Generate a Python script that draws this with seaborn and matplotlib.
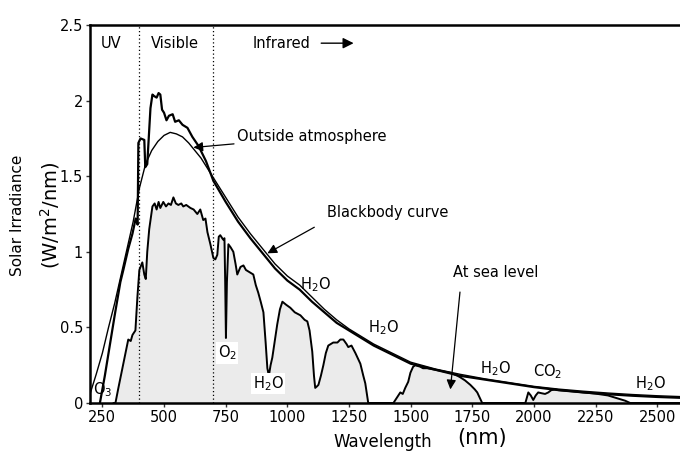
import seaborn as sns
import pandas as pd
from matplotlib import pyplot as plt

"""
data read off the reference picture
"""

# blackbody curve (thin line)
bb_nm = [200, 225, 250, 275, 300, 325, 350, 375, 400, 425, 450, 475, 500, 525, 550, 575,
         600, 650, 700, 750, 800, 850, 900, 950, 1000, 1050, 1100, 1150, 1200, 1250, 1300,
         1350, 1400, 1500, 1600, 1700, 1800, 1900, 2000, 2100, 2200, 2300, 2400, 2500, 2600]
bb_val = [0.06, 0.19, 0.33, 0.50, 0.66, 0.84, 1.02, 1.20, 1.42, 1.58, 1.67, 1.73, 1.77, 1.79, 1.78, 1.76,
          1.72, 1.62, 1.49, 1.36, 1.23, 1.12, 1.02, 0.92, 0.84, 0.78, 0.70, 0.62, 0.55, 0.49, 0.44,
          0.39, 0.35, 0.27, 0.225, 0.19, 0.16, 0.135, 0.11, 0.092, 0.078, 0.066, 0.056, 0.048, 0.042]

# spectrum outside atmosphere
oa_nm = [240, 260, 282, 300, 323, 335, 355, 372, 385, 393, 396, 405, 420, 424, 432, 445, 453,
         460, 470, 478, 485, 492, 500, 510, 520, 535, 545, 560, 575, 595, 615, 640, 670, 700,
         750, 800, 850, 900, 950, 1000, 1050, 1100, 1150, 1200, 1250, 1300, 1350, 1400, 1500,
         1600, 1700, 1800, 1900, 2000, 2100, 2200, 2300, 2400, 2500, 2600]
oa_val = [0.0, 0.18, 0.40, 0.58, 0.80, 0.88, 1.02, 1.12, 1.22, 1.18, 1.72, 1.75, 1.74, 1.56, 1.58, 1.95, 2.04,
          2.03, 2.02, 2.05, 2.04, 1.94, 1.92, 1.87, 1.90, 1.91, 1.86, 1.87, 1.84, 1.82, 1.76, 1.70, 1.60, 1.47,
          1.33, 1.20, 1.09, 0.99, 0.89, 0.81, 0.75, 0.67, 0.60, 0.53, 0.48, 0.43, 0.38, 0.34, 0.26,
          0.22, 0.18, 0.155, 0.13, 0.105, 0.085, 0.07, 0.058, 0.048, 0.04, 0.034]

# spectrum at sea level (shaded)
sl_nm = [295, 303, 315, 335, 355, 365, 372, 384, 392, 400, 412, 420, 426, 432, 440, 453, 462, 470,
         478, 485, 497, 508, 518, 528, 538, 548, 558, 570, 578, 590, 607, 620, 635, 647, 659, 668,
         676, 688, 700, 708, 716, 722, 728, 740, 745, 748, 751, 755, 761, 770, 781, 790, 797, 810,
         822, 832, 842, 852, 862, 872, 882, 892, 903, 912, 919, 925, 932, 939, 950, 959, 970, 980,
         995, 1012, 1030, 1053, 1070, 1081, 1090, 1101, 1108, 1113, 1120, 1126, 1136, 1146, 1156,
         1166, 1176, 1186, 1203, 1215, 1227, 1240, 1247, 1260, 1276, 1296, 1308, 1316, 1328, 1430,
         1446, 1458, 1468, 1478, 1490, 1499, 1510, 1519, 1539, 1550, 1567, 1600, 1630, 1661, 1690,
         1701, 1720, 1742, 1760, 1770, 1790, 1965, 1977, 1987, 1997, 2007, 2017, 2030, 2045, 2058,
         2070, 2085, 2100, 2150, 2200, 2250, 2300, 2340, 2370, 2390, 2600]
sl_val = [0.0, 0.0, 0.10, 0.26, 0.42, 0.41, 0.45, 0.48, 0.70, 0.88, 0.93, 0.85, 0.82, 1.00, 1.15, 1.30, 1.32, 1.28,
          1.33, 1.29, 1.33, 1.30, 1.32, 1.31, 1.36, 1.32, 1.31, 1.32, 1.30, 1.31, 1.29, 1.28, 1.25, 1.28, 1.21, 1.22,
          1.13, 1.05, 0.96, 0.95, 0.98, 1.10, 1.11, 1.08, 1.09, 0.80, 0.43, 0.80, 1.05, 1.03, 1.00, 0.92, 0.85, 0.90,
          0.91, 0.88, 0.87, 0.86, 0.85, 0.78, 0.73, 0.67, 0.60, 0.40, 0.23, 0.18, 0.25, 0.30, 0.42, 0.52, 0.62, 0.67,
          0.65, 0.63, 0.60, 0.58, 0.55, 0.54, 0.48, 0.34, 0.18, 0.10, 0.11, 0.12, 0.18, 0.25, 0.33,
          0.38, 0.39, 0.40, 0.40, 0.42, 0.42, 0.39, 0.37, 0.38, 0.33, 0.26, 0.18, 0.13, 0.0, 0.0,
          0.04, 0.07, 0.06, 0.10, 0.14, 0.20, 0.24, 0.25, 0.24, 0.23, 0.23, 0.22, 0.21, 0.20, 0.18,
          0.17, 0.15, 0.12, 0.09, 0.07, 0.0, 0.0, 0.07, 0.05, 0.02, 0.05, 0.07, 0.065, 0.06, 0.07,
          0.085, 0.09, 0.085, 0.078, 0.07, 0.062, 0.05, 0.03, 0.015, 0.0, 0.0]

x_ticks = [250, 500, 750, 1000, 1250, 1500, 1750, 2000, 2250, 2500]
y_ticks = [0, 0.5, 1, 1.5, 2, 2.5]
y_ticklabels = ["0", "0.5", "1", "1.5", "2", "2.5"]
band_edges = [400, 700]

bb = pd.DataFrame({"nm": bb_nm, "val": bb_val})
oa = pd.DataFrame({"nm": oa_nm, "val": oa_val})
sl = pd.DataFrame({"nm": sl_nm, "val": sl_val})

"""         plot          """

sns.set_style("ticks", {"axes.edgecolor": "black", "text.color": "black",
                        "xtick.color": "black", "ytick.color": "black"})
plt.rcParams['font.family'] = ['DejaVu Sans']

fig = plt.figure(figsize=(6.8, 4.51), dpi=100)
ax = fig.add_axes([0.1324, 0.1064, 0.8676, 0.8381])

ax.fill_between(sl["nm"], 0, sl["val"], color="#ebebeb", lw=0, zorder=1)
sns.lineplot(data=sl, x="nm", y="val", ax=ax, color="black", lw=1.4, sort=False, estimator=None, zorder=3)
sns.lineplot(data=bb, x="nm", y="val", ax=ax, color="black", lw=1.0, sort=False, estimator=None, zorder=3)
sns.lineplot(data=oa, x="nm", y="val", ax=ax, color="black", lw=1.6, sort=False, estimator=None, zorder=4)

for edge in band_edges:
    ax.axvline(edge, color="black", ls=(0, (1, 2)), lw=0.9, zorder=2)

ax.set_xlim(200, 2592)
ax.set_ylim(0, 2.5)
ax.set_xticks(x_ticks)
ax.set_yticks(y_ticks)
ax.set_yticklabels(y_ticklabels)
ax.tick_params(labelsize=10.5, length=3, width=1, pad=2, color="#333333", labelcolor="black")
ax.set_xlabel("")
ax.set_ylabel("")

for s in ["left", "bottom", "top"]:
    ax.spines[s].set_linewidth(1.8)
ax.spines["right"].set_visible(False)

# band names
ax.text(287, 2.38, "UV", ha="center", va="center", fontsize=10.5)
ax.text(546, 2.38, "Visible", ha="center", va="center", fontsize=10.5)
ax.text(976, 2.38, "Infrared", ha="center", va="center", fontsize=10.5)
ax.annotate("", xy=(1280, 2.38), xytext=(1126, 2.38),
            arrowprops=dict(arrowstyle="-|>", color="black", lw=1.0, mutation_scale=16))

# curve names
ax.annotate("Outside atmosphere", xy=(619, 1.69), xytext=(797, 1.76), fontsize=10.5,
            va="center", ha="left",
            arrowprops=dict(arrowstyle="-|>", color="black", lw=0.9, mutation_scale=14,
                            shrinkA=0, shrinkB=0))
ax.annotate("Blackbody curve", xy=(919, 0.99), xytext=(1162, 1.26), fontsize=10.5,
            va="center", ha="left",
            arrowprops=dict(arrowstyle="-|>", color="black", lw=0.9, mutation_scale=14,
                            shrinkA=8, shrinkB=0, relpos=(0, 0)))
ax.annotate("At sea level", xy=(1661, 0.09), xytext=(1843, 0.86), fontsize=10.5,
            va="center", ha="center",
            arrowprops=dict(arrowstyle="-|>", color="black", lw=0.9, mutation_scale=14,
                            shrinkA=6, shrinkB=0, relpos=(0.1, 0)))

# absorbers
ax.text(250, 0.09, "O$_3$", ha="center", va="center", fontsize=10.5)
ax.text(757, 0.33, "O$_2$", ha="center", va="center", fontsize=10.5,
        bbox=dict(facecolor="white", edgecolor="none", pad=1))
ax.text(923, 0.13, "H$_2$O", ha="center", va="center", fontsize=10.5,
        bbox=dict(facecolor="white", edgecolor="none", pad=1))
ax.text(1113, 0.78, "H$_2$O", ha="center", va="center", fontsize=10.5)
ax.text(1389, 0.50, "H$_2$O", ha="center", va="center", fontsize=10.5)
ax.text(1843, 0.23, "H$_2$O", ha="center", va="center", fontsize=10.5)
ax.text(2054, 0.21, "CO$_2$", ha="center", va="center", fontsize=10.5)
ax.text(2471, 0.13, "H$_2$O", ha="center", va="center", fontsize=10.5)

# axis titles
fig.text(18 / 680, 1 - 215 / 451, "Solar Irradiance", rotation=90, ha="center", va="center", fontsize=11)
fig.text(50 / 680, 1 - 215 / 451, "(W/m$^2$/nm)", rotation=90, ha="center", va="center", fontsize=14)
fig.text(383 / 680, 1 - 442 / 451, "Wavelength", ha="center", va="center", fontsize=12)
fig.text(482 / 680, 1 - 438 / 451, "(nm)", ha="center", va="center", fontsize=15)

plt.savefig("out.png", dpi=100)
